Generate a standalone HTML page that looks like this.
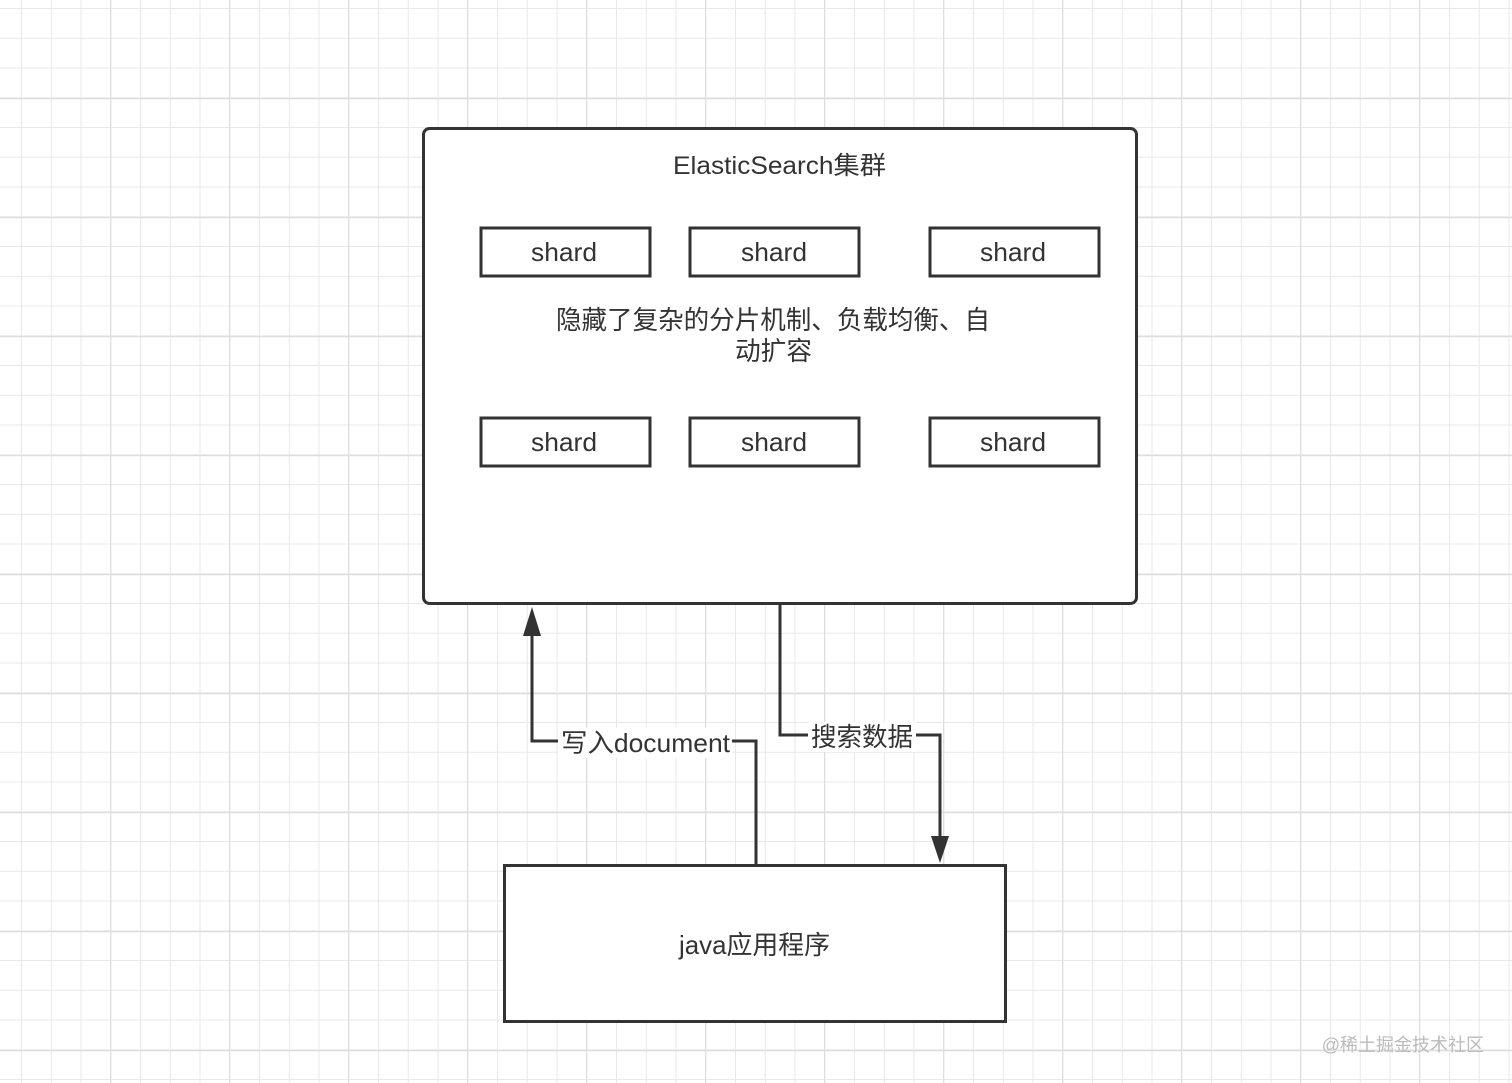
<!DOCTYPE html>
<html><head><meta charset="utf-8"><style>
html,body{margin:0;padding:0;background:#fff;}
svg{display:block;}
text{font-family:"Liberation Sans","Noto Sans CJK SC",sans-serif;fill:#333;}
</style></head><body>
<svg width="1512" height="1083" xmlns="http://www.w3.org/2000/svg">
<defs>
<pattern id="g" x="21" y="8" width="29.75" height="29.75" patternUnits="userSpaceOnUse">
<path d="M0 0V29.75M0 0H29.75" stroke="#e8e8e8" stroke-width="2" fill="none"/>
</pattern>
<pattern id="G" x="110" y="98" width="119" height="119" patternUnits="userSpaceOnUse">
<path d="M0 0V119M0 0H119" stroke="#dedede" stroke-width="2.5" fill="none"/>
</pattern>
</defs>
<rect width="1512" height="1083" fill="url(#g)"/>
<rect width="1512" height="1083" fill="url(#G)"/>

<rect x="423.5" y="128.5" width="713" height="475" rx="6" fill="#fff" stroke="#333" stroke-width="3"/>
<text x="673" y="174" font-size="25" textLength="213" lengthAdjust="spacingAndGlyphs">ElasticSearch集群</text>

<g fill="#fff" stroke="#333" stroke-width="3">
<rect x="481" y="228" width="169" height="48"/>
<rect x="690" y="228" width="169" height="48"/>
<rect x="930" y="228" width="169" height="48"/>
<rect x="481" y="418" width="169" height="48"/>
<rect x="690" y="418" width="169" height="48"/>
<rect x="930" y="418" width="169" height="48"/>
</g>
<g font-size="26">
<text x="531" y="261" textLength="66" lengthAdjust="spacingAndGlyphs">shard</text>
<text x="741" y="261" textLength="66" lengthAdjust="spacingAndGlyphs">shard</text>
<text x="980" y="261" textLength="66" lengthAdjust="spacingAndGlyphs">shard</text>
<text x="531" y="451" textLength="66" lengthAdjust="spacingAndGlyphs">shard</text>
<text x="741" y="451" textLength="66" lengthAdjust="spacingAndGlyphs">shard</text>
<text x="980" y="451" textLength="66" lengthAdjust="spacingAndGlyphs">shard</text>
</g>
<text x="556" y="329" font-size="26" textLength="434" lengthAdjust="spacingAndGlyphs">隐藏了复杂的分片机制、负载均衡、自</text>
<text x="735" y="360" font-size="26" textLength="77" lengthAdjust="spacingAndGlyphs">动扩容</text>

<rect x="504.5" y="865.5" width="501" height="156" fill="#fff" stroke="#333" stroke-width="3"/>
<text x="679" y="954" font-size="26" textLength="151" lengthAdjust="spacingAndGlyphs">java应用程序</text>

<g fill="none" stroke="#333" stroke-width="3">
<polyline points="756,864 756,741 532,741 532,630"/>
<polyline points="780,605 780,735 940,735 940,840"/>
</g>
<polygon points="532,607 523,636 541,636" fill="#333"/>
<polygon points="940,863 931,836 949,836" fill="#333"/>
<rect x="558" y="728" width="174" height="30" fill="#fff"/>
<text x="561" y="752" font-size="26" textLength="169" lengthAdjust="spacingAndGlyphs">写入document</text>
<rect x="808" y="722" width="108" height="30" fill="#fff"/>
<text x="811" y="746" font-size="26" textLength="102" lengthAdjust="spacingAndGlyphs">搜索数据</text>

<text x="1484" y="1051" font-size="18" text-anchor="end" style="fill:#bbb">@稀土掘金技术社区</text>
</svg>
</body></html>
